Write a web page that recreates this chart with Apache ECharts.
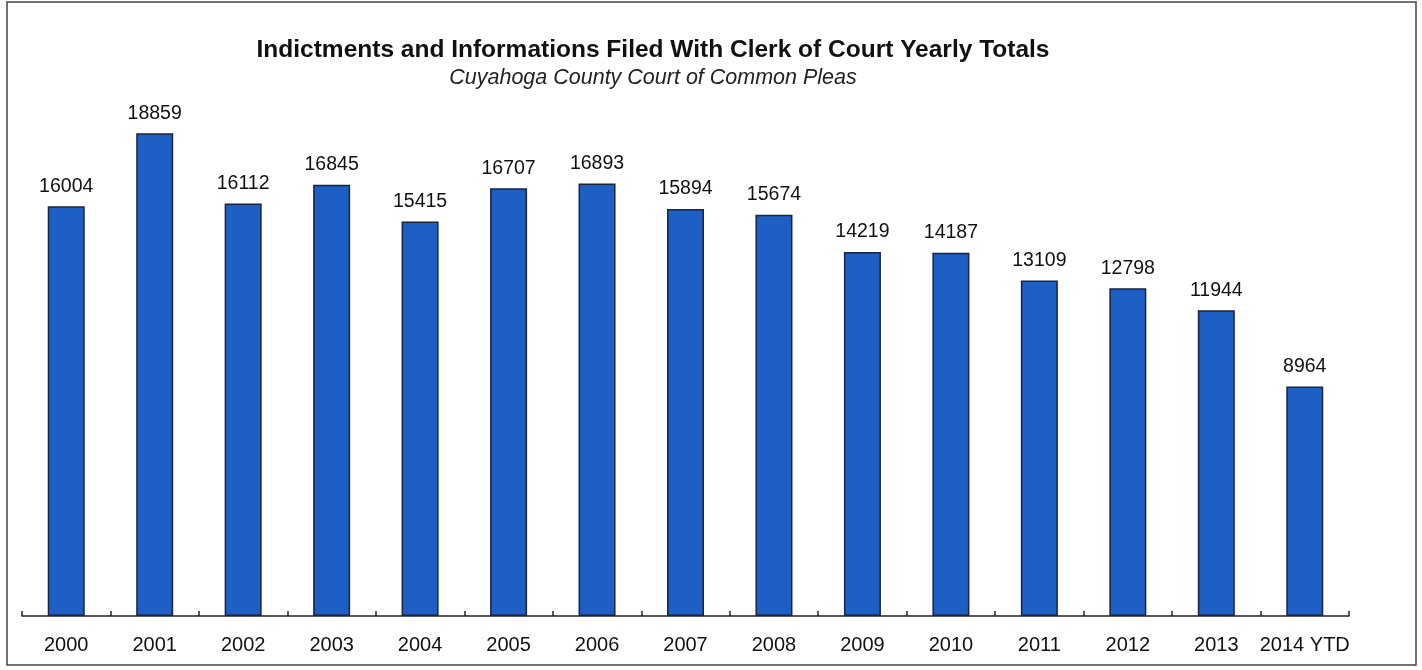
<!DOCTYPE html>
<html>
<head>
<meta charset="utf-8">
<script src="https://cdn.jsdelivr.net/npm/echarts@6/dist/echarts.min.js"></script>
<style>
html,body{margin:0;padding:0;background:#fff;}
#c{width:1422px;height:670px;}
</style>
</head>
<body>
<div id="c"></div>
<script>
var categories = ['2000','2001','2002','2003','2004','2005','2006','2007','2008','2009','2010','2011','2012','2013','2014 YTD'];
var totals = [16004,18859,16112,16845,15415,16707,16893,15894,15674,14219,14187,13109,12798,11944,8964];
var titleText = 'Indictments and Informations Filed With Clerk of Court Yearly Totals';
var subtitleText = 'Cuyahoga County Court of Common Pleas';

var chart = echarts.init(document.getElementById('c'));
chart.setOption({
  backgroundColor: '#fff',
  animation: false,
  title: {
    text: titleText,
    subtext: subtitleText,
    left: 648,
    textAlign: 'center',
    top: 33,
    itemGap: 4,
    textStyle: {fontFamily: 'Liberation Sans, Arial', fontWeight: 'bold', fontSize: 24.5, color: '#111'},
    subtextStyle: {fontFamily: 'Liberation Sans, Arial', fontStyle: 'italic', fontSize: 21.5, color: '#222'}
  },
  graphic: [{
    type: 'rect',
    shape: {x: 7, y: 2, width: 1409, height: 663},
    style: {fill: 'none', stroke: '#444', lineWidth: 1.5},
    silent: true
  }],
  grid: {left: 22, right: 73, top: 104, bottom: 54},
  xAxis: {
    type: 'category',
    data: categories,
    boundaryGap: true,
    axisLine: {show: true, lineStyle: {color: '#222', width: 1.5}},
    axisTick: {show: true, inside: true, length: 5, lineStyle: {color: '#222', width: 1.5}},
    axisLabel: {fontFamily: 'Liberation Sans, Arial', fontSize: 20, color: '#111', margin: 19, interval: 0}
  },
  yAxis: {
    type: 'value',
    min: 0,
    max: 20000,
    show: false,
    splitLine: {show: false}
  },
  series: [{
    type: 'bar',
    data: totals,
    barWidth: 37,
    itemStyle: {color: '#1d5fc4', borderColor: '#1a2340', borderWidth: 1.5},
    label: {show: true, position: 'top', distance: 10, fontFamily: 'Liberation Sans, Arial', fontSize: 19.5, color: '#111'}
  }]
});
</script>
</body>
</html>
